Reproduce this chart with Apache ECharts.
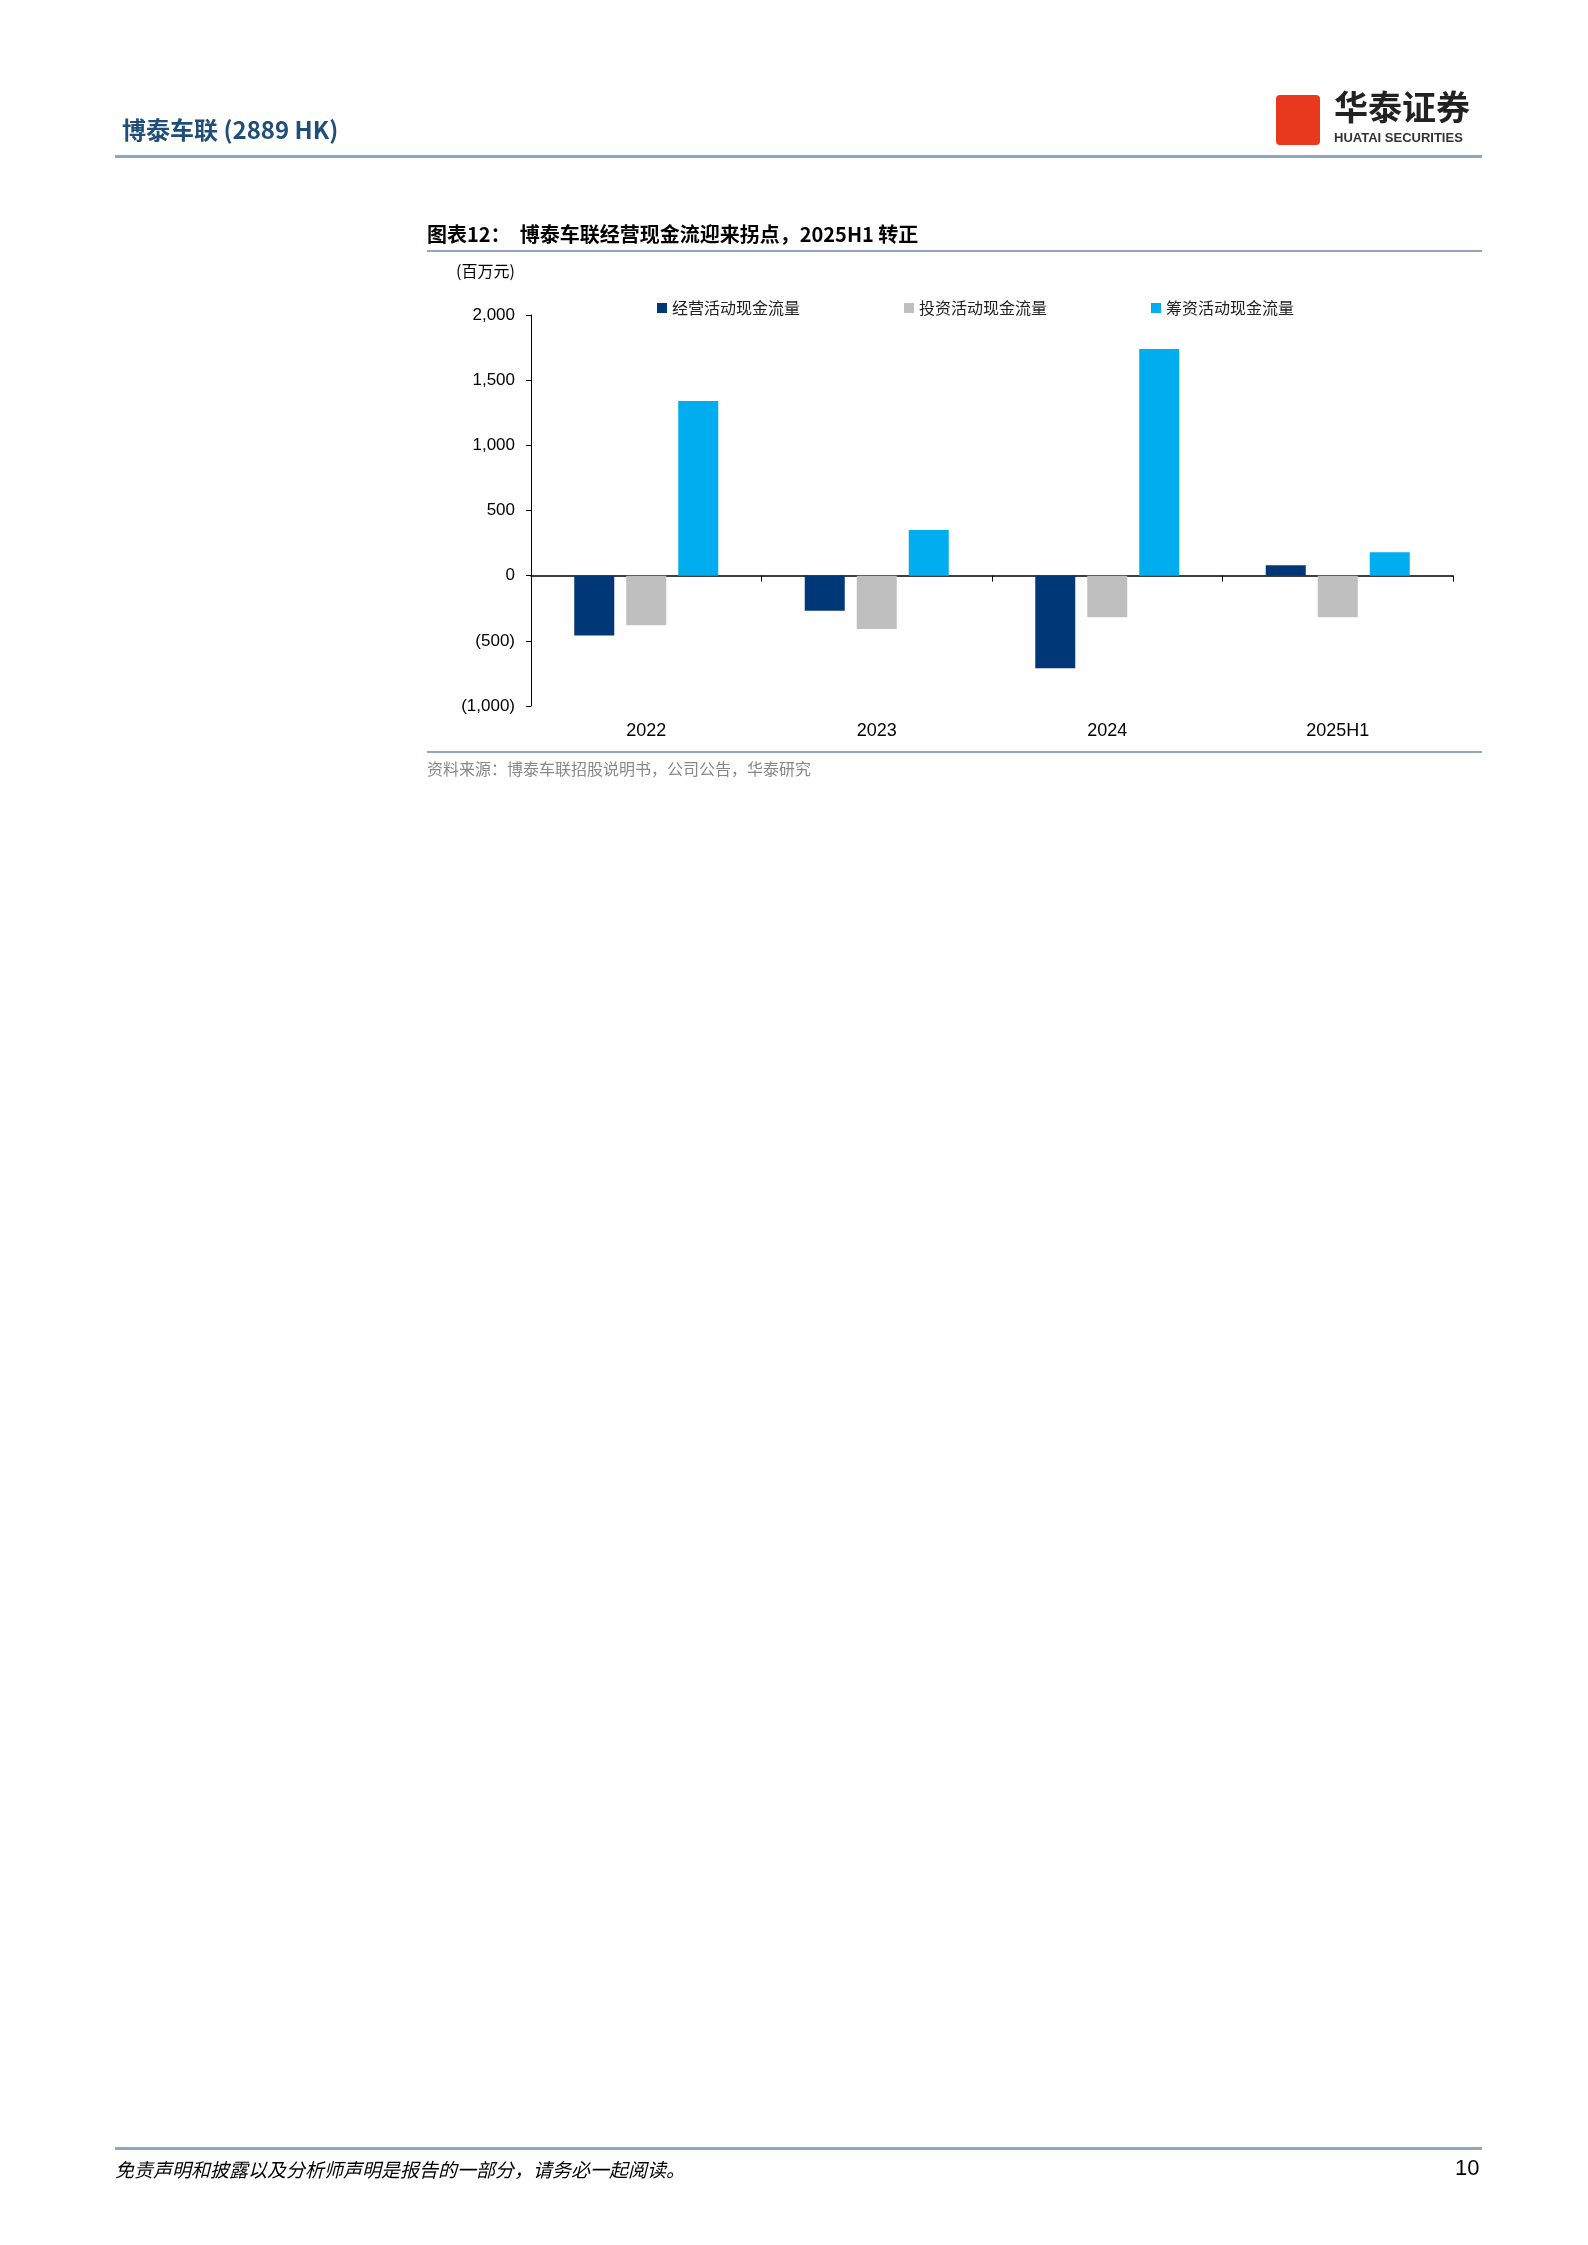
<!DOCTYPE html>
<html>
<head>
<meta charset="utf-8">
<script src="https://cdn.jsdelivr.net/npm/echarts@6/dist/echarts.min.js"></script>
<style>
  body { margin: 0; padding: 0; background: #fff; }
  #main { width: 1588px; height: 2245px; }
</style>
</head>
<body>
<div id="main"></div>
<script>
// 数据
var categories = ['2022', '2023', '2024', '2025H1'];
var operating = [-460, -270, -710, 80];
var investing = [-380, -410, -320, -320];
var financing = [1340, 350, 1740, 180];
var seriesNames = ['经营活动现金流量', '投资活动现金流量', '筹资活动现金流量'];

var cjk = '"Noto Sans CJK SC", sans-serif';
var chart = echarts.init(document.getElementById('main'));

function fmt(v) {
  var s = Math.abs(v).toLocaleString('en-US');
  return v < 0 ? '(' + s + ')' : s;
}

chart.setOption({
  animation: false,
  grid: { left: 531, top: 315, width: 922, height: 391 },
  legend: {
    top: 295, left: 652, itemGap: 104, itemWidth: 10, itemHeight: 10,
    icon: 'rect',
    textStyle: { fontFamily: cjk, fontSize: 16, color: '#222' },
    data: seriesNames
  },
  xAxis: {
    type: 'category', data: categories,
    axisLine: { onZero: true, lineStyle: { color: '#000', width: 1.5 } },
    axisTick: { show: true, length: 6, lineStyle: { color: '#000' } },
    axisLabel: { show: false }
  },
  xAxis: [{
    type: 'category', data: categories,
    axisLine: { onZero: true, lineStyle: { color: '#000', width: 1.5 } },
    axisTick: { show: true, length: 6, lineStyle: { color: '#000' } },
    axisLabel: { show: false }
  }, {
    type: 'category', data: categories, position: 'bottom',
    axisLine: { show: false }, axisTick: { show: false },
    axisLabel: { fontFamily: 'Arial, "Liberation Sans"', fontSize: 18, color: '#000', margin: 16 }
  }],
  yAxis: {
    type: 'value', min: -1000, max: 2000, interval: 500,
    axisLine: { show: true, lineStyle: { color: '#000' } },
    axisTick: { show: true, length: 5, lineStyle: { color: '#000' } },
    splitLine: { show: false },
    axisLabel: { formatter: fmt, fontFamily: 'Arial, "Liberation Sans"', fontSize: 17, color: '#000', margin: 16 }
  },
  series: [
    { name: seriesNames[0], type: 'bar', data: operating, barWidth: 40, barGap: '30%', barCategoryGap: '38%', itemStyle: { color: '#003776' } },
    { name: seriesNames[1], type: 'bar', data: investing, barWidth: 40, itemStyle: { color: '#BFBFBF' } },
    { name: seriesNames[2], type: 'bar', data: financing, barWidth: 40, itemStyle: { color: '#00ADEE' } }
  ],
  graphic: [
    // 页眉
    { type: 'text', left: 122, top: 118, style: { text: '博泰车联 (2889 HK)', font: 'bold 24px ' + cjk, fill: '#1F4E79' } },
    { type: 'rect', shape: { x: 115, y: 155, width: 1367, height: 3 }, style: { fill: '#8FA7C6' } },
    { type: 'rect', shape: { x: 1276, y: 95, width: 44, height: 50, r: 4 }, style: { fill: '#E8381E' } },
    { type: 'text', left: 1334, top: 90, style: { text: '华泰证券', font: 'bold 34px ' + cjk, fill: '#222' } },
    { type: 'text', left: 1334, top: 132, style: { text: 'HUATAI SECURITIES', font: 'bold 13px Arial', fill: '#333' } },
    // 标题
    { type: 'text', left: 427, top: 224, style: { text: '图表12：  博泰车联经营现金流迎来拐点，2025H1 转正', font: 'bold 20px ' + cjk, fill: '#000' } },
    { type: 'rect', shape: { x: 427, y: 250, width: 1055, height: 2 }, style: { fill: '#8FA7C6' } },
    { type: 'text', left: 456, top: 263, style: { text: '(百万元)', font: '16px ' + cjk, fill: '#000' } },
    { type: 'rect', shape: { x: 427, y: 751, width: 1055, height: 2 }, style: { fill: '#8FA7C6' } },
    { type: 'text', left: 427, top: 761, style: { text: '资料来源：博泰车联招股说明书，公司公告，华泰研究', font: '16px ' + cjk, fill: '#888' } },
    // 页脚
    { type: 'rect', shape: { x: 115, y: 2147, width: 1367, height: 3 }, style: { fill: '#8FA7C6' } },
    { type: 'text', left: 115, top: 2160, style: { text: '免责声明和披露以及分析师声明是报告的一部分，请务必一起阅读。', font: 'italic 19px ' + cjk, fill: '#000' } },
    { type: 'text', left: 1455, top: 2158, style: { text: '10', font: '22px Arial', fill: '#000' } }
  ]
});
</script>
</body>
</html>
